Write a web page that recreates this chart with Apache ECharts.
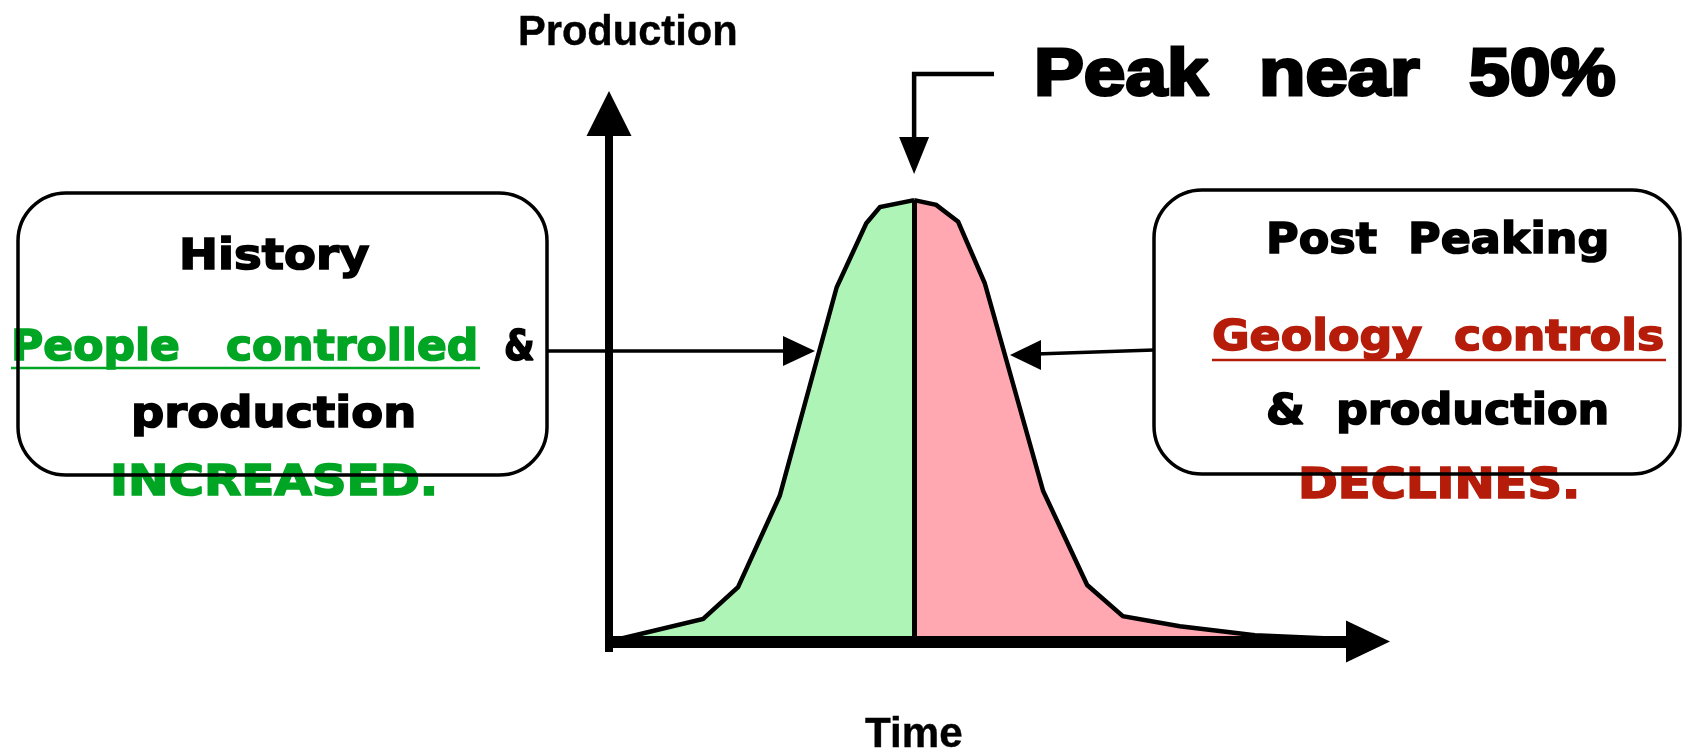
<!DOCTYPE html>
<html><head><meta charset="utf-8">
<script src="https://cdn.jsdelivr.net/npm/echarts@6/dist/echarts.min.js"></script>
<style>html,body{margin:0;padding:0;background:#fff}#c{width:1682px;height:749px}</style>
</head><body><div id="c"></div>
<script>
// Curve data (time, production), split at the peak
const timeLeft  = [0, 12.4, 17.0, 22.5, 30.0, 33.9, 35.7, 40.2];
const prodLeft  = [0, 4.3, 10.3, 27.6, 67.1, 79.2, 82.3, 83.6];
const timeRight = [40.2, 43.1, 46.0, 49.5, 57.2, 63.0, 67.7, 75.2, 85.1, 96.4];
const prodRight = [83.6, 82.7, 79.5, 67.9, 28.5, 10.7, 4.8, 2.9, 1.2, 0.5];
const peakTime = 40.2;
const peakProd = 83.6;

// Text labels
const axisNames = ['Production', 'Time'];
const peakWords = ['Peak', 'near', '50%'];
const leftBoxLines = ['History', 'People   controlled', '&', 'production', 'INCREASED.'];
const rightBoxLines = ['Post  Peaking', 'Geology  controls', '&  production', 'DECLINES.'];

const SANS = '"Liberation Sans", Arial, Helvetica, sans-serif';
const WIDE = '"DejaVu Sans", Verdana, sans-serif';
const GREEN = '#00a524';
const RED = '#b51d0a';

const mctx = document.createElement('canvas').getContext('2d');
function txt(text, fam, size, color, left, right, cy, sw, z) {
  const font = 'bold ' + size + 'px ' + fam;
  mctx.font = font;
  const w = mctx.measureText(text).width + (sw || 0);
  const sx = (right - left) / w;
  return {type: 'text', x: left, y: cy, scaleX: sx, z: z || 10, silent: true,
    style: {text: text, font: font, fill: color, stroke: sw ? color : null, lineWidth: sw || 0,
            align: 'left', verticalAlign: 'middle', textAlign: 'left', textVerticalAlign: 'middle'}};
}
function line(pts, w, color, z) {
  return {type: 'polyline', z: z || 10, silent: true, shape: {points: pts},
    style: {stroke: color || '#000', lineWidth: w, fill: null, lineCap: 'butt', lineJoin: 'miter'}};
}
function tri(pts, z) {
  return {type: 'polygon', z: z || 10, silent: true, shape: {points: pts}, style: {fill: '#000'}};
}
function box(x, y, w, h) {
  return {type: 'rect', z: 20, silent: true, shape: {x: x, y: y, width: w, height: h, r: 48},
    style: {fill: 'none', stroke: '#000', lineWidth: 3.5}};
}

const chart = echarts.init(document.getElementById('c'), null, {renderer: 'canvas'});
const zip = (a, b) => a.map((v, i) => [v, b[i]]);

chart.setOption({
  animation: false,
  backgroundColor: '#fff',
  grid: {left: 605.2, right: 314, top: 113.5, bottom: 96.9, outerBoundsMode: 'none'},
  xAxis: {type: 'value', min: -0.5, max: 100, z: 5,
    axisLine: {show: true, onZero: true, symbol: ['none', 'triangle'], symbolSize: [42, 44],
      lineStyle: {color: '#000', width: 12, cap: 'butt'}},
    axisTick: {show: false}, axisLabel: {show: false}, splitLine: {show: false}},
  yAxis: {type: 'value', min: -2, max: 100, z: 5,
    axisLine: {show: true, onZero: true, symbol: ['none', 'triangle'], symbolSize: [45, 45],
      lineStyle: {color: '#000', width: 8, cap: 'butt'}},
    axisTick: {show: false}, axisLabel: {show: false}, splitLine: {show: false}},
  series: [
    {type: 'line', data: zip(timeLeft, prodLeft), symbol: 'none', z: 2,
      lineStyle: {color: '#000', width: 4.5, join: 'miter'}, areaStyle: {color: '#aef4b6', opacity: 1},
      markLine: {silent: true, symbol: ['none', 'none'], label: {show: false},
        lineStyle: {color: '#000', width: 5, type: 'solid'},
        data: [[{coord: [peakTime, 0]}, {coord: [peakTime, peakProd]}]]}},
    {type: 'line', data: zip(timeRight, prodRight), symbol: 'none', z: 2,
      lineStyle: {color: '#000', width: 4.5, join: 'miter'}, areaStyle: {color: '#ffa8b1', opacity: 1}}
  ]
});

const pk = chart.convertToPixel({gridIndex: 0}, [peakTime, peakProd]);
const px = pk[0];

const g = [
  txt(axisNames[0], SANS, 42, '#000', 518, 738, 33, 0.4),
  txt(axisNames[1], SANS, 42, '#000', 865, 963, 735, 0.4),
  txt(peakWords[0], SANS, 66, '#000', 1034, 1212, 77, 3),
  txt(peakWords[1], SANS, 66, '#000', 1259, 1423, 77, 3),
  txt(peakWords[2], SANS, 66, '#000', 1469, 1619, 77, 3),
  // peak arrow
  line([[994, 74], [px, 74], [px, 140]], 4.5),
  tri([[px - 15, 137], [px + 15, 137], [px, 174]]),
  // left box
  box(18, 193, 529, 282),
  txt(leftBoxLines[0], WIDE, 43, '#000', 179, 371, 258, 1.6),
  txt(leftBoxLines[1], WIDE, 43, GREEN, 11, 480, 349, 1.6),
  line([[11, 368], [480, 368]], 2.5, GREEN),
  txt(leftBoxLines[2], WIDE, 43, '#000', 504, 536, 349, 1.6),
  txt(leftBoxLines[3], WIDE, 43, '#000', 131, 418, 416, 1.6),
  txt(leftBoxLines[4], WIDE, 43, GREEN, 110, 440, 484, 1.6),
  line([[547, 351], [790, 351]], 3.5),
  tri([[783, 336], [783, 366], [815, 351]]),
  // right box
  box(1154, 190, 526, 284),
  txt(rightBoxLines[0], WIDE, 43, '#000', 1266, 1611, 242, 1.6),
  txt(rightBoxLines[1], WIDE, 43, RED, 1212, 1666, 339, 1.6),
  line([[1212, 360], [1666, 360]], 2.5, RED),
  txt(rightBoxLines[2], WIDE, 43, '#000', 1266, 1611, 413, 1.6),
  txt(rightBoxLines[3], WIDE, 43, RED, 1298, 1582, 487, 1.6),
  line([[1154, 350], [1036, 354]], 3.5),
  tri([[1041, 340], [1041, 370], [1010, 355]])
];
chart.setOption({graphic: {elements: g}});
</script></body></html>
